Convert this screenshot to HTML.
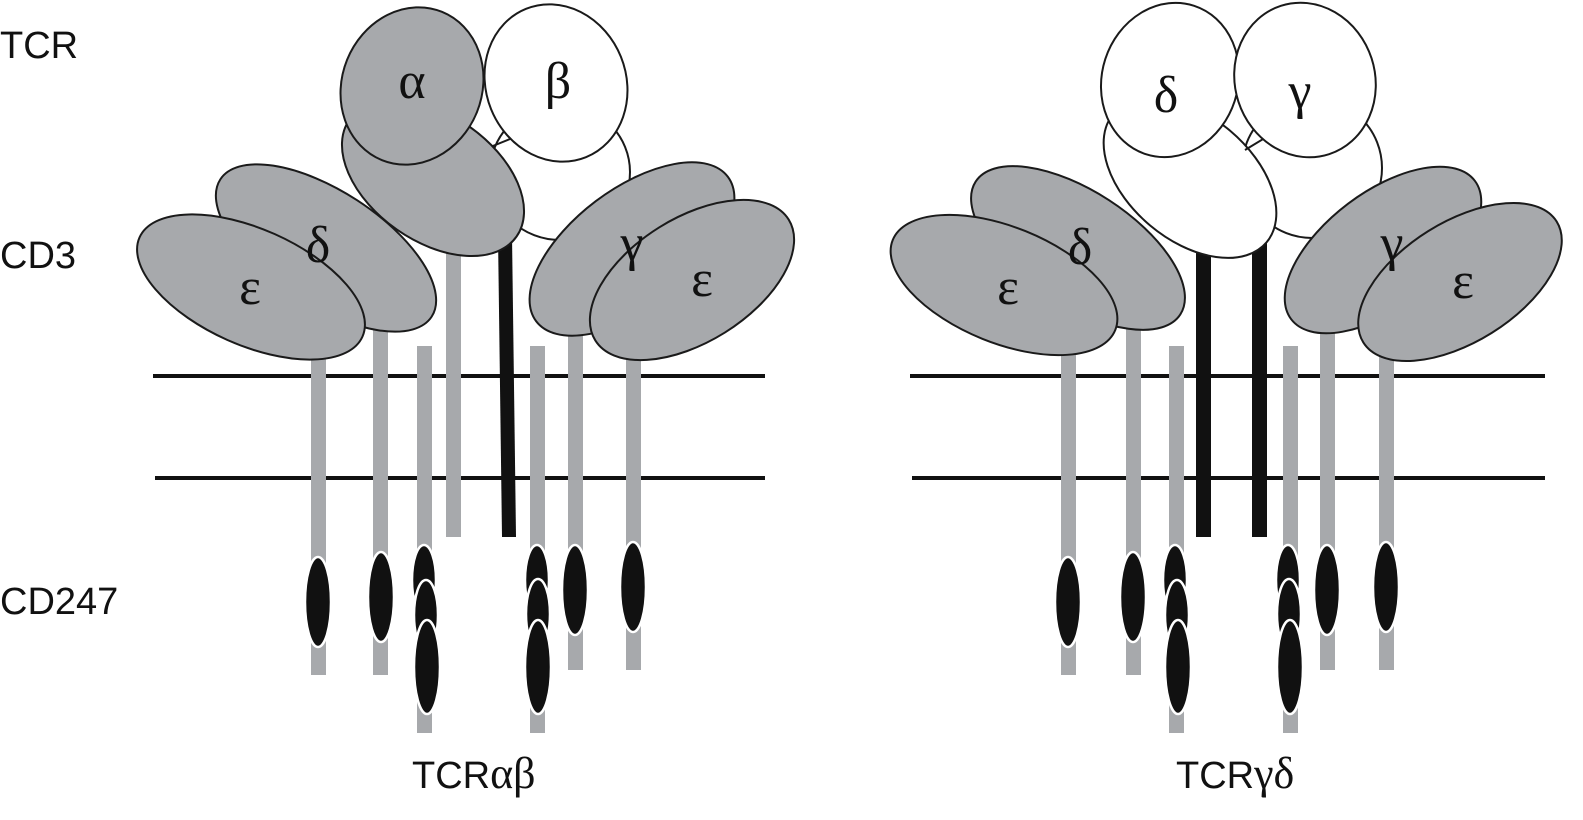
<!DOCTYPE html>
<html><head><meta charset="utf-8"><style>
html,body{margin:0;padding:0;background:#fff;width:1583px;height:820px;overflow:hidden}
svg{display:block}
.g{fill:#a7a9ac;stroke:#1a1a1a;stroke-width:2}
.w{fill:#fff;stroke:#1a1a1a;stroke-width:2}
.gk{font-family:"Liberation Serif",serif;font-size:52px;fill:#111;text-anchor:middle}
.lb{font-family:"Liberation Sans",sans-serif;font-size:38px;fill:#111}
.st{fill:#a7a9ac}
.it{fill:#111;stroke:#fff;stroke-width:2.5}
</style></head><body>
<svg width="1583" height="820" viewBox="0 0 1583 820">
<text class="lb" x="0" y="58">TCR</text>
<text class="lb" x="0" y="268">CD3</text>
<text class="lb" x="0" y="614">CD247</text>

<!-- membranes -->
<line x1="153" y1="376" x2="765" y2="376" stroke="#111" stroke-width="4"/>
<line x1="155" y1="478" x2="765" y2="478" stroke="#111" stroke-width="4"/>
<line x1="910" y1="376" x2="1545" y2="376" stroke="#111" stroke-width="4"/>
<line x1="912" y1="478" x2="1545" y2="478" stroke="#111" stroke-width="4"/>

<!-- LEFT stems -->
<rect class="st" x="311" y="330" width="15" height="345"/>
<rect class="st" x="373" y="310" width="15" height="365"/>
<rect class="st" x="417" y="346" width="15" height="387"/>
<rect class="st" x="446" y="230" width="15" height="307"/>
<polygon points="498,235 512,235 516,537 502,537" fill="#111"/>
<rect class="st" x="530" y="346" width="15" height="387"/>
<rect class="st" x="568" y="310" width="15" height="360"/>
<rect class="st" x="626" y="330" width="15" height="340"/>

<!-- RIGHT stems -->
<rect class="st" x="1061" y="330" width="15" height="345"/>
<rect class="st" x="1126" y="310" width="15" height="365"/>
<rect class="st" x="1169" y="346" width="15" height="387"/>
<rect class="st" x="1283" y="346" width="15" height="387"/>
<rect class="st" x="1320" y="310" width="15" height="360"/>
<rect class="st" x="1379" y="330" width="15" height="340"/>
<rect x="1196" y="235" width="15" height="302" fill="#111"/>
<rect x="1252" y="235" width="15" height="302" fill="#111"/>

<!-- LEFT TCR -->
<ellipse class="w" cx="560" cy="172" rx="70" ry="68"/>
<line x1="478" y1="152" x2="520" y2="135" stroke="#1a1a1a" stroke-width="2"/>
<ellipse class="g" cx="433" cy="178" rx="102" ry="63" transform="rotate(35 433 178)"/>
<ellipse class="w" cx="556" cy="83" rx="70" ry="80" transform="rotate(-22 556 83)"/>
<ellipse class="g" cx="412" cy="86" rx="70" ry="80" transform="rotate(22 412 86)"/>
<text class="gk" x="412" y="98">α</text>
<text class="gk" x="558" y="98">β</text>

<!-- LEFT CD3 -->
<ellipse class="g" cx="326" cy="248" rx="126" ry="57" transform="rotate(33 326 248)"/>
<ellipse class="g" cx="251" cy="287" rx="122" ry="58" transform="rotate(24 251 287)"/>
<text class="gk" x="318" y="262">δ</text>
<text class="gk" x="250" y="304">ε</text>
<ellipse class="g" cx="632" cy="249" rx="120" ry="60" transform="rotate(-37 632 249)"/>
<ellipse class="g" cx="692" cy="280" rx="114" ry="62" transform="rotate(-32 692 280)"/>
<text class="gk" x="632" y="260">γ</text>
<text class="gk" x="702" y="296">ε</text>

<!-- RIGHT TCR -->
<ellipse class="w" cx="1312" cy="168" rx="70" ry="70"/>
<ellipse class="w" cx="1190" cy="178" rx="100" ry="62" transform="rotate(40 1190 178)"/>
<line x1="1245" y1="150" x2="1278" y2="130" stroke="#1a1a1a" stroke-width="2"/>
<ellipse class="w" cx="1170" cy="80" rx="68" ry="78" transform="rotate(18 1170 80)"/>
<ellipse class="w" cx="1305" cy="80" rx="70" ry="78" transform="rotate(-18 1305 80)"/>
<text class="gk" x="1166" y="112">δ</text>
<text class="gk" x="1300" y="108">γ</text>

<!-- RIGHT CD3 -->
<ellipse class="g" cx="1078" cy="248" rx="122" ry="57" transform="rotate(33 1078 248)"/>
<ellipse class="g" cx="1004" cy="285" rx="120" ry="58" transform="rotate(22 1004 285)"/>
<text class="gk" x="1080" y="264">δ</text>
<text class="gk" x="1008" y="304">ε</text>
<ellipse class="g" cx="1383" cy="250" rx="115" ry="58" transform="rotate(-37 1383 250)"/>
<ellipse class="g" cx="1460" cy="282" rx="114" ry="60" transform="rotate(-32 1460 282)"/>
<text class="gk" x="1392" y="260">γ</text>
<text class="gk" x="1463" y="298">ε</text>

<!-- ITAMs left -->
<ellipse class="it" cx="318" cy="602" rx="13" ry="45"/>
<ellipse class="it" cx="381" cy="597" rx="13" ry="45"/>
<ellipse class="it" cx="424" cy="580" rx="12" ry="35"/>
<ellipse class="it" cx="426" cy="615" rx="12" ry="35"/>
<ellipse class="it" cx="427" cy="667" rx="13" ry="47"/>
<ellipse class="it" cx="537" cy="580" rx="12" ry="35"/>
<ellipse class="it" cx="538" cy="614" rx="12" ry="35"/>
<ellipse class="it" cx="538" cy="667" rx="13" ry="47"/>
<ellipse class="it" cx="575" cy="590" rx="13" ry="45"/>
<ellipse class="it" cx="633" cy="587" rx="13" ry="45"/>

<!-- ITAMs right -->
<ellipse class="it" cx="1068" cy="602" rx="13" ry="45"/>
<ellipse class="it" cx="1133" cy="597" rx="13" ry="45"/>
<ellipse class="it" cx="1175" cy="580" rx="12" ry="35"/>
<ellipse class="it" cx="1177" cy="615" rx="12" ry="35"/>
<ellipse class="it" cx="1178" cy="667" rx="13" ry="47"/>
<ellipse class="it" cx="1288" cy="580" rx="12" ry="35"/>
<ellipse class="it" cx="1289" cy="614" rx="12" ry="35"/>
<ellipse class="it" cx="1290" cy="667" rx="13" ry="47"/>
<ellipse class="it" cx="1327" cy="590" rx="13" ry="45"/>
<ellipse class="it" cx="1386" cy="587" rx="13" ry="45"/>

<text class="lb" x="412" y="788">TCR<tspan font-family="Liberation Serif, serif" font-size="44">αβ</tspan></text>
<text class="lb" x="1176" y="788">TCR<tspan font-family="Liberation Serif, serif" font-size="44">γδ</tspan></text>
</svg>
</body></html>
